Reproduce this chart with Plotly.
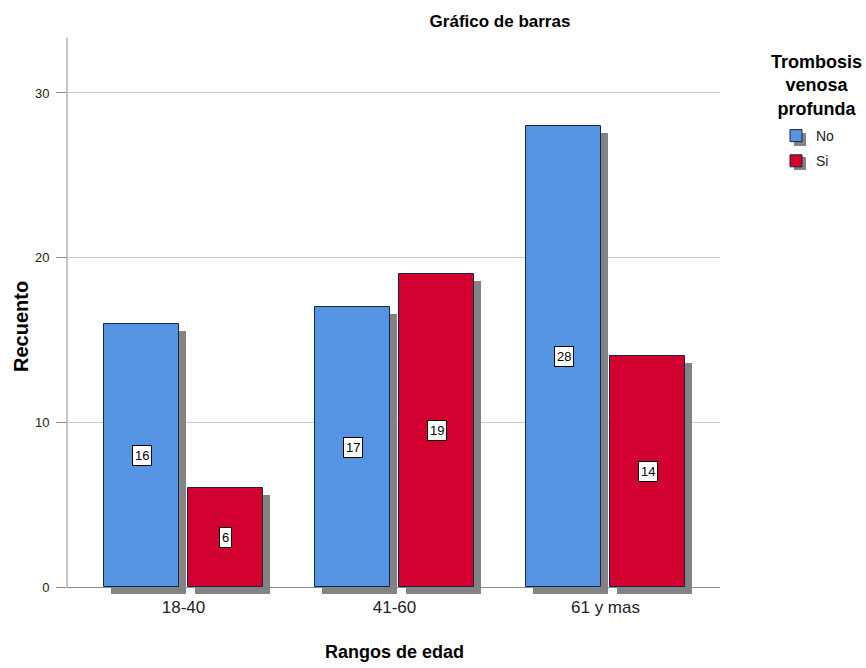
import plotly.graph_objects as go

categories = ["18-40", "41-60", "61 y mas"]
no_values = [16, 17, 28]
si_values = [6, 19, 14]
y_ticks = [0, 10, 20, 30]

BLUE = "#5594E3"
RED = "#D2002E"
SHADOW = "#838383"
EDGE = "#1B2440"
FONT = "Liberation Sans, Arial, sans-serif"

W, H = 866, 668
L, R, T, B = 67, 720, 38, 595          # plot area in pixels
PX_PER_UNIT = 16.467                   # y pixels per count unit
PX_PER_CAT = 211.0                     # x pixels per category
sh_y = 7 / PX_PER_UNIT
sh_x = 7 / PX_PER_CAT
width = 75 / PX_PER_CAT
off_no = -79.5 / PX_PER_CAT
off_si = 4.5 / PX_PER_CAT

xs = list(range(len(categories)))

fig = go.Figure()
# shadows
for vals, off in [(no_values, off_no), (si_values, off_si)]:
    fig.add_trace(go.Bar(
        x=xs, y=vals, base=[-sh_y] * len(vals), width=width, offset=off + sh_x,
        marker=dict(color=SHADOW, line=dict(width=0)),
        showlegend=False, hoverinfo="skip"))
# real bars
fig.add_trace(go.Bar(x=xs, y=no_values, name="No", width=width, offset=off_no, legendgroup="no",
                     marker=dict(color=BLUE, line=dict(color=EDGE, width=1))))
fig.add_trace(go.Bar(x=xs, y=si_values, name="Si", width=width, offset=off_si, legendgroup="si",
                     marker=dict(color=RED, line=dict(color=EDGE, width=1))))

annotations = []
for vals, off in [(no_values, off_no), (si_values, off_si)]:
    for i, v in enumerate(vals):
        annotations.append(dict(
            x=i + off + width / 2, y=v / 2, xref="x", yref="y", text=str(v),
            showarrow=False, font=dict(family=FONT, size=13, color="#000"),
            bgcolor="white", bordercolor="#000", borderwidth=1, borderpad=2))


def px_x(p):
    return (p - L) / (R - L)


def px_y(p):
    return (B - p) / (B - T)


# axis titles
annotations.append(dict(
    text="<b>Recuento</b>", xref="paper", yref="paper",
    x=px_x(21), y=px_y(327), xanchor="center", yanchor="middle", textangle=-90,
    showarrow=False, font=dict(family=FONT, size=20, color="#000")))
annotations.append(dict(
    text="<b>Rangos de edad</b>", xref="paper", yref="paper",
    x=px_x(395), y=px_y(652), xanchor="center", yanchor="middle",
    showarrow=False, font=dict(family=FONT, size=18, color="#000")))
# legend title
annotations.append(dict(
    text="<b>Trombosis<br>venosa<br>profunda</b>", xref="paper", yref="paper",
    x=px_x(816), y=px_y(50), xanchor="center", yanchor="top",
    align="center", showarrow=False, font=dict(family=FONT, size=18, color="#000")))

shapes = [dict(type="line", xref="paper", yref="y", x0=0, x1=0, y0=0, y1=(B - T - 8) / PX_PER_UNIT,
               line=dict(color="#8a8a8a", width=1))]
# legend symbol shadows
for top in (133, 157):
    shapes.append(dict(type="rect", xref="paper", yref="paper",
                       x0=px_x(794), x1=px_x(806), y0=px_y(top + 13), y1=px_y(top),
                       fillcolor=SHADOW, line=dict(width=0), layer="above"))

fig.update_layout(
    width=W, height=H,
    margin=dict(l=L, r=W - R, t=T, b=H - B),
    paper_bgcolor="white", plot_bgcolor="white",
    barmode="overlay",
    font=dict(family=FONT, color="#222"),
    title=dict(text="<b>Gráfico de barras</b>", font=dict(family=FONT, size=17, color="#000"),
               xref="container", x=500 / W, xanchor="center", yref="container",
               y=1 - 21 / H, yanchor="middle"),
    xaxis=dict(
        range=[-116.5 / PX_PER_CAT, 2 + (R - 605.5) / PX_PER_CAT],
        tickmode="array", tickvals=xs, ticktext=categories,
        tickfont=dict(family=FONT, size=17, color="#222"),
        showgrid=False, zeroline=False, showline=False, ticks="",
        automargin=False,
    ),
    yaxis=dict(
        range=[-(B - 587) / PX_PER_UNIT, (587 - T) / PX_PER_UNIT],
        tickmode="array", tickvals=y_ticks,
        tickfont=dict(family=FONT, size=13, color="#222"),
        showgrid=True, gridcolor="#C8C8C8", gridwidth=1,
        zeroline=True, zerolinecolor="#8a8a8a", zerolinewidth=1,
        showline=False, ticks="outside", ticklen=10, tickcolor="#8a8a8a",
        ticklabelstandoff=4, automargin=False,
    ),
    legend=dict(
        x=px_x(776), xanchor="left", y=px_y(120), yanchor="top",
        font=dict(family=FONT, size=14, color="#222"),
        itemwidth=30, bgcolor="rgba(0,0,0,0)", tracegroupgap=4,
    ),
    annotations=annotations,
    shapes=shapes,
    bargap=0,
)

fig.write_html("out.html")
